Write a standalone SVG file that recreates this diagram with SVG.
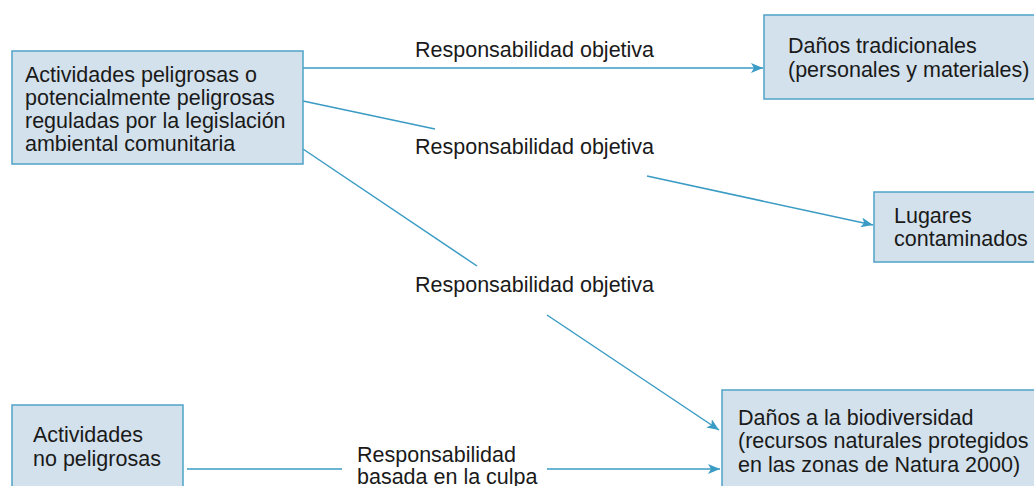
<svg xmlns="http://www.w3.org/2000/svg" width="1034" height="486" viewBox="0 0 1034 486">
<style>
.box{fill:#d3e1ec;stroke:#4fa3c7;stroke-width:1.5}
.t{font-family:"Liberation Sans",Arial,sans-serif;font-size:21.5px;fill:#1a1a1a}
.c{stroke:#3a9bc4;stroke-width:1.5;fill:none}
</style>
<defs>
<marker id="ah" viewBox="0 0 12 10" refX="12" refY="5" markerWidth="12" markerHeight="10" markerUnits="userSpaceOnUse" orient="auto">
<path d="M0,0 L12,5 L0,10 L3,5 Z" fill="#3a9bc4"/>
</marker>
</defs>
<rect width="1034" height="486" fill="#ffffff"/>
<g id="connectors">
<line class="c" x1="303" y1="68" x2="763" y2="68" marker-end="url(#ah)"/>
<line class="c" x1="303" y1="101" x2="435" y2="129"/>
<line class="c" x1="647" y1="176" x2="873" y2="225" marker-end="url(#ah)"/>
<line class="c" x1="303" y1="149" x2="477" y2="266"/>
<line class="c" x1="547" y1="315" x2="719" y2="430" marker-end="url(#ah)"/>
<line class="c" x1="187" y1="469" x2="342" y2="469"/>
<line class="c" x1="547" y1="469" x2="720" y2="469" marker-end="url(#ah)"/>
<text class="t" x="415" y="57">Responsabilidad objetiva</text>
<text class="t" x="415" y="154">Responsabilidad objetiva</text>
<text class="t" x="415" y="292">Responsabilidad objetiva</text>
<text class="t" x="357" y="462">Responsabilidad</text>
<text class="t" x="357" y="484">basada en la culpa</text>
</g>
<g id="n1">
<rect class="box" x="12" y="51" width="291" height="113"/>
<text class="t" x="25" y="82">Actividades peligrosas o</text>
<text class="t" x="25" y="105">potencialmente peligrosas</text>
<text class="t" x="25" y="128">reguladas por la legislación</text>
<text class="t" x="25" y="151">ambiental comunitaria</text>
</g>
<g id="n2">
<rect class="box" x="764" y="15" width="290" height="84"/>
<text class="t" x="788" y="53">Daños tradicionales</text>
<text class="t" x="788" y="77">(personales y materiales)</text>
</g>
<g id="n3">
<rect class="box" x="874" y="192" width="180" height="70"/>
<text class="t" x="894" y="223">Lugares</text>
<text class="t" x="894" y="246">contaminados</text>
</g>
<g id="n4">
<rect class="box" x="722" y="390" width="330" height="110"/>
<text class="t" x="738" y="425">Daños a la biodiversidad</text>
<text class="t" x="738" y="448">(recursos naturales protegidos</text>
<text class="t" x="738" y="472">en las zonas de Natura 2000)</text>
</g>
<g id="n5">
<rect class="box" x="12" y="405" width="171" height="100"/>
<text class="t" x="33" y="442">Actividades</text>
<text class="t" x="33" y="466">no peligrosas</text>
</g>
</svg>
